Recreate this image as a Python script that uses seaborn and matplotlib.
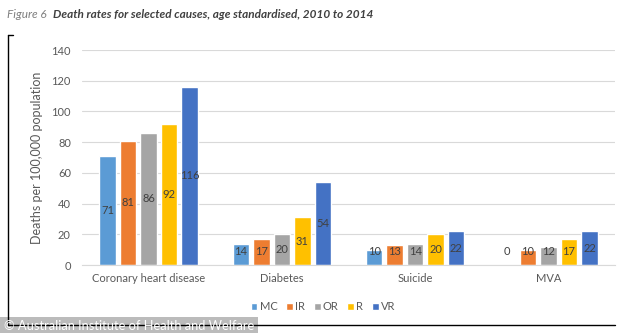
import matplotlib
matplotlib.use("Agg")
import matplotlib.pyplot as plt
import seaborn as sns
import pandas as pd
from matplotlib.lines import Line2D
from matplotlib.patches import Rectangle

causes = ["Coronary heart disease", "Diabetes", "Suicide", "MVA"]
regions = ["MC", "IR", "OR", "R", "VR"]
mc = [71, 14, 10, 0]
ir = [81, 17, 13, 10]
orr = [86, 20, 14, 12]
r = [92, 31, 20, 17]
vr = [116, 54, 22, 22]
colors = ["#5B9BD5", "#ED7D31", "#A5A5A5", "#FFC000", "#4472C4"]
yticks = [0, 20, 40, 60, 80, 100, 120, 140]

series = {"MC": mc, "IR": ir, "OR": orr, "R": r, "VR": vr}
rows = []
for reg in regions:
    for c, v in zip(causes, series[reg]):
        rows.append({"cause": c, "region": reg, "value": v})
df = pd.DataFrame(rows)

sns.set_style("white")
plt.rcParams["font.family"] = ["Lato", "DejaVu Sans"]

fig = plt.figure(figsize=(6.34, 3.33), dpi=100)
ax = fig.add_axes([82/634, 1-265/333, (615-82)/634, (265-50)/333])

sns.barplot(data=df, x="cause", y="value", hue="region", hue_order=regions,
            order=causes, palette=colors, width=0.77, gap=0.2, ax=ax,
            saturation=1, legend=True, errorbar=None)

ax.set_ylim(0, 140)
ax.set_yticks(yticks)
ax.set_yticklabels([str(t) for t in yticks], fontsize=8, color="#595959")
ax.set_xlim(-0.5, 3.5)
ax.tick_params(axis="x", labelsize=8, colors="#595959", length=0, pad=6)
ax.tick_params(axis="y", length=0, pad=8)
ax.set_xlabel("")
ax.set_ylabel("Deaths per 100,000 population", fontsize=9, color="#595959", labelpad=6)
ax.yaxis.grid(True, color="#D9D9D9", linewidth=0.8)
ax.set_axisbelow(True)
for s in ["top", "right", "left"]:
    ax.spines[s].set_visible(False)
ax.spines["bottom"].set_color("#D9D9D9")

for cont in ax.containers:
    for p in cont.patches:
        h = p.get_height()
        ax.text(p.get_x() + p.get_width()/2, max(h/2, 9), f"{h:.0f}",
                ha="center", va="center", fontsize=8, color="#404040")

leg = ax.get_legend()
handles = leg.legend_handles
leg.remove()
fig.legend(handles, regions, loc="center", bbox_to_anchor=(323/634, 1-307/333),
           ncol=5, frameon=False, fontsize=8, handlelength=0.6, handleheight=0.6,
           handletextpad=0.2, columnspacing=0.8, labelcolor="#595959")

fig.text(7/634, 1-15/333, "Figure 6", fontsize=8.5, style="italic", color="#7F7F7F", va="center")
fig.text(53/634, 1-15/333, "Death rates for selected causes, age standardised, 2010 to 2014",
         fontsize=8.5, style="italic", weight="bold", color="#404040", va="center")

# bracket frame
fig.add_artist(Line2D([8/634, 8/634], [1-35/333, 1-325/333], color="black", lw=1, transform=fig.transFigure))
fig.add_artist(Line2D([8/634, 13/634], [1-35/333, 1-35/333], color="black", lw=1, transform=fig.transFigure))
fig.add_artist(Line2D([8/634, 615/634], [1-325/333, 1-325/333], color="black", lw=1, transform=fig.transFigure))

# watermark
fig.add_artist(Rectangle((0, 0), 258/634, 16/333, transform=fig.transFigure,
                         facecolor="#B0B0B0", edgecolor="none", alpha=0.85))
fig.text(4/634, 7/333, "© Australian Institute of Health and Welfare", fontsize=9.3,
         color="white", va="center")

fig.savefig("out.png", dpi=100)
